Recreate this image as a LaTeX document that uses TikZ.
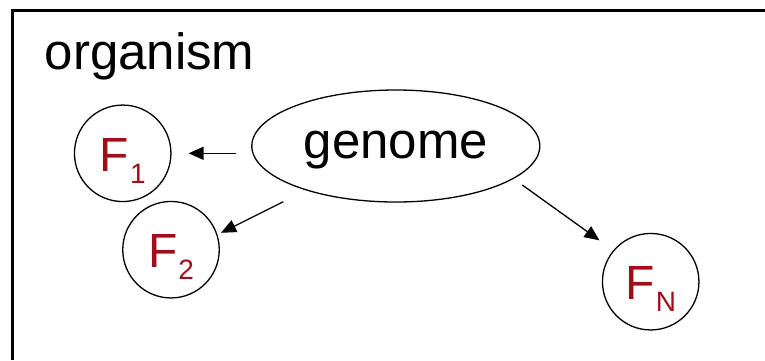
\documentclass[tikz,border=0pt]{standalone}
\usepackage{fontspec}
\setmainfont{Liberation Sans}
\usepackage{tikz}
\usetikzlibrary{arrows.meta,shapes.geometric}
\definecolor{factorRed}{HTML}{A20D1A}

\newcommand{\fsub}[1]{F\kern1pt\raisebox{-12pt}{\fontsize{28}{28}\selectfont #1}}

\begin{document}
\begin{tikzpicture}[
    x=1pt, y=-1pt,
    factor/.style={
        draw,
        circle,
        line width=1.3pt,
        inner sep=0pt,
        minimum size=96.5pt,
        text height=36pt,
        text depth=0pt,
        text=factorRed,
        font=\fontsize{48}{48}\selectfont
    },
    gene/.style={
        draw,
        ellipse,
        line width=1.3pt,
        inner sep=0pt,
        minimum width=288pt,
        minimum height=112pt,
        text height=25pt,
        text depth=0pt,
        font=\fontsize{51}{51}\selectfont
    },
    arrow/.style={
        -{Triangle[length=15pt,width=13pt]},
        line width=1.3pt
    }
]
\useasboundingbox (0,0) rectangle (765,360);
% organism frame
\draw[line width=2.4pt] (12.5,360) -- (12.5,10.5) -- (765,10.5);
\node[anchor=base west, inner sep=0pt, font=\fontsize{51}{51}\selectfont] (org) at (44.5,69.3) {organism};

\node[gene] (genome) at (395.8,146) {genome};
\node[factor] (f1) at (122.7,153.3) {\fsub{1}};
\node[factor] (f2) at (171,249.7) {\fsub{2}};
\node[factor] (fn) at (650.7,281.7) {\fsub{N}};

\coordinate (t1) at (236,153.3);
\coordinate (t2) at (283.3,201.7);
\coordinate (tn) at (522.3,185);

\draw[arrow, shorten >=17pt] (t1) -- (f1.east);
\draw[arrow, shorten >=4pt] (t2) -- (f2.18);
\draw[arrow, shorten >=17pt] (tn) -- (fn.140);
\end{tikzpicture}
\end{document}
